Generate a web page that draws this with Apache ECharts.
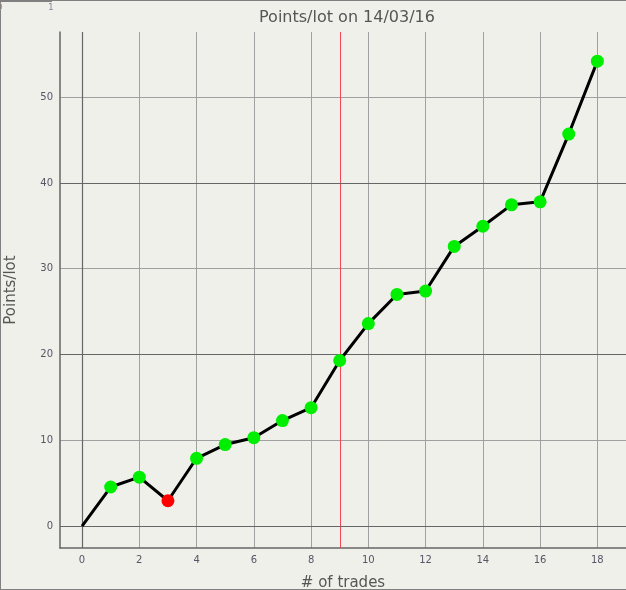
<!DOCTYPE html>
<html>
<head>
<meta charset="utf-8">
<script src="https://cdn.jsdelivr.net/npm/echarts@6/dist/echarts.min.js"></script>
<style>
html,body{margin:0;padding:0;background:#f0f0ea;}
#c{width:626px;height:590px;}
</style>
</head>
<body>
<div id="c"></div>
<script>
const titleText = "Points/lot on 14/03/16";
const xName = "# of trades";
const yName = "Points/lot";
const trades = [0,1,2,3,4,5,6,7,8,9,10,11,12,13,14,15,16,17,18];
const pointsPerLot = [0,4.55,5.7,2.95,7.9,9.5,10.3,12.3,13.8,19.3,23.6,27.0,27.4,32.6,34.95,37.45,37.8,45.7,54.2];
const xTicks = [0,2,4,6,8,10,12,14,16,18];
const yTicks = [0,10,20,30,40,50];
const yMajor = [0,20,40];
const xMajor = [0];
const xRed = [9];
const xRange = [-0.77, 19.0];
const yRange = [-2.56, 57.6];

const chart = echarts.init(document.getElementById('c'), null, {renderer:'canvas'});
const font = "DejaVu Sans";
const data = trades.map((x,i)=>{
  const v = pointsPerLot[i];
  const item = {value:[x,v]};
  if (i===0) item.symbol = 'none';
  else item.itemStyle = {color: v < pointsPerLot[i-1] ? '#ff0000' : '#00ee00'};
  return item;
});
const lineColor = '#a0a0a0';
const frame = [
  {type:'rect',shape:{x:0,y:0,width:626,height:1},style:{fill:'#808080'},z:100},
  {type:'rect',shape:{x:0,y:0,width:52,height:2},style:{fill:'#808080'},z:100},
  {type:'rect',shape:{x:0,y:0,width:1,height:590},style:{fill:'#808080'},z:100},
  {type:'rect',shape:{x:0,y:589,width:626,height:1},style:{fill:'#808080'},z:100},
  {type:'text',left:-3,top:3,style:{text:'0',font:'9px '+font,fill:'#b09090'},z:100},
  {type:'text',left:48,top:3,style:{text:'1',font:'9px '+font,fill:'#8888a0'},z:100}
];
chart.setOption({
  backgroundColor:'#f0f0ea',
  animation:false,
  title:{text:titleText,left:342,textAlign:'center',top:5,
    textStyle:{fontFamily:font,fontSize:16,fontWeight:'normal',color:'#555555'}},
  grid:{left:60,top:32,right:0,bottom:42,containLabel:false,outerBoundsMode:'none'},
  xAxis:{type:'value',min:xRange[0],max:xRange[1],
    name:xName,nameLocation:'middle',nameGap:28,
    nameTextStyle:{fontFamily:font,fontSize:15,color:'#555555'},
    axisLine:{show:true,onZero:false,lineStyle:{color:'#666666',width:1.5}},
    axisTick:{show:false,customValues:xTicks},
    axisLabel:{customValues:xTicks,fontFamily:font,fontSize:10,color:'#555566',margin:7},
    splitLine:{show:true,lineStyle:{color:lineColor,width:1}}},
  yAxis:{type:'value',min:yRange[0],max:yRange[1],
    name:yName,nameLocation:'middle',nameGap:41,
    nameTextStyle:{fontFamily:font,fontSize:15,color:'#555555'},
    axisLine:{show:true,onZero:false,lineStyle:{color:'#666666',width:1.5}},
    axisTick:{show:false,customValues:yTicks},
    axisLabel:{customValues:yTicks,fontFamily:font,fontSize:10,color:'#555566',margin:7},
    splitLine:{show:true,lineStyle:{color:lineColor,width:1}}},
  graphic:frame,
  series:[
    {type:'scatter',z:1,data:[],silent:true,color:'#666666',
      markLine:{silent:true,symbol:'none',label:{show:false},animation:false,
        lineStyle:{color:'#666666',width:1.2,type:'solid'},
        data:[
          ...yMajor.map(v=>({yAxis:v})),
          ...xMajor.map(v=>({xAxis:v}))
        ]}},
    {type:'line',z:5,data:data,symbol:'circle',symbolSize:13,
      lineStyle:{color:'#000000',width:3},
      itemStyle:{borderWidth:0},
      emphasis:{disabled:true}}
  ]
});
// red reference line(s) placed through the chart's own scales
const redLines = xRed.map(v=>{
  const p0 = chart.convertToPixel({gridIndex:0},[v,yRange[0]]);
  const p1 = chart.convertToPixel({gridIndex:0},[v,yRange[1]]);
  const x = Math.round(p0[0]) + 0.5;
  return {type:'line',z:3,silent:true,
    shape:{x1:x,y1:p0[1],x2:x,y2:p1[1]},
    style:{stroke:'#f04858',lineWidth:1}};
});
chart.setOption({graphic:frame.concat(redLines)});
</script>
</body>
</html>
